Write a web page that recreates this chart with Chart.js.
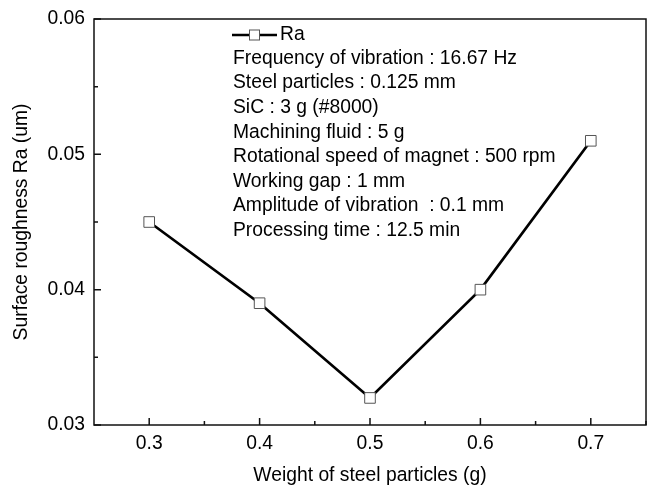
<!DOCTYPE html>
<html>
<head>
<meta charset="utf-8">
<script src="https://cdn.jsdelivr.net/npm/chart.js@4"></script>
<style>
  html, body { margin: 0; padding: 0; background: #fff; }
  #wrap { width: 647px; height: 490px; }
</style>
</head>
<body>
<div id="wrap"><canvas id="chart"></canvas></div>
<script>
const weights = [0.3, 0.4, 0.5, 0.6, 0.7];
const roughness = [0.045, 0.039, 0.032, 0.040, 0.051];
const xTicks = [0.3, 0.4, 0.5, 0.6, 0.7];
const yTicks = [0.03, 0.04, 0.05, 0.06];
const notes = [
    "Frequency of vibration : 16.67 Hz",
    "Steel particles : 0.125 mm",
    "SiC : 3 g (#8000)",
    "Machining fluid : 5 g",
    "Rotational speed of magnet : 500 rpm",
    "Working gap : 1 mm",
    "Amplitude of vibration  : 0.1 mm",
    "Processing time : 12.5 min"
];

const FONT = "Arial, 'Liberation Sans', sans-serif";
const FS = 19.3;

// frame, inward ticks, legend and the parameter list
const framePlugin = {
    id: 'frame',
    afterDraw(chart) {
        const ctx = chart.ctx;
        const a = chart.chartArea;
        const xs = chart.scales.x, ys = chart.scales.y;
        ctx.save();
        ctx.strokeStyle = '#111';
        ctx.lineWidth = 1.5;
        ctx.strokeRect(a.left, a.top, a.right - a.left, a.bottom - a.top);

        ctx.beginPath();
        xTicks.forEach(v => {
            const px = xs.getPixelForValue(v);
            ctx.moveTo(px, a.bottom); ctx.lineTo(px, a.bottom - 7);
            const pm = xs.getPixelForValue(v + 0.05);
            ctx.moveTo(pm, a.bottom); ctx.lineTo(pm, a.bottom - 4);
        });
        yTicks.forEach((v, i) => {
            const py = ys.getPixelForValue(v);
            ctx.moveTo(a.left, py); ctx.lineTo(a.left + 7, py);
            if (i < yTicks.length - 1) {
                const pm = ys.getPixelForValue(v + 0.005);
                ctx.moveTo(a.left, pm); ctx.lineTo(a.left + 4, pm);
            }
        });
        ctx.stroke();

        // legend
        const ly = 35;
        ctx.strokeStyle = '#000';
        ctx.lineWidth = 2.5;
        ctx.beginPath();
        ctx.moveTo(232, ly); ctx.lineTo(277, ly);
        ctx.stroke();
        ctx.fillStyle = '#fff';
        ctx.strokeStyle = '#555';
        ctx.lineWidth = 1;
        ctx.fillRect(249.5, ly - 5, 10, 10);
        ctx.strokeRect(249.5, ly - 5, 10, 10);

        ctx.fillStyle = '#000';
        ctx.font = FS + 'px ' + FONT;
        ctx.textBaseline = 'middle';
        ctx.textAlign = 'left';
        ctx.fillText(chart.data.datasets[0].label, 280, ly);
        notes.forEach((t, i) => ctx.fillText(t, 233, 58.5 + i * 24.6));
        ctx.restore();
    }
};

new Chart(document.getElementById('chart'), {
    type: 'line',
    data: {
        datasets: [{
            label: 'Ra',
            data: weights.map((w, i) => ({ x: w, y: roughness[i] })),
            borderColor: '#000',
            borderWidth: 2.7,
            pointStyle: 'rect',
            pointRadius: 7.5,
            pointBorderWidth: 1,
            pointBorderColor: '#555',
            pointBackgroundColor: '#fff',
            tension: 0
        }]
    },
    options: {
        responsive: true,
        maintainAspectRatio: false,
        animation: false,
        layout: { autoPadding: false, padding: { left: 0, right: 1, top: 19, bottom: 0 } },
        plugins: {
            legend: { display: false },
            tooltip: { enabled: false }
        },
        scales: {
            x: {
                type: 'linear',
                min: 0.25,
                max: 0.75,
                afterBuildTicks: s => { s.ticks = xTicks.map(v => ({ value: v })); },
                afterFit: s => { s.height = 65; s.paddingLeft = 0; s.paddingRight = 0; },
                grid: { display: false, drawTicks: false },
                border: { display: false },
                ticks: {
                    padding: 7,
                    color: '#000',
                    font: { family: FONT, size: FS },
                    callback: v => v.toFixed(1)
                },
                title: {
                    display: true,
                    text: 'Weight of steel particles (g)',
                    color: '#000',
                    font: { family: FONT, size: FS },
                    padding: { top: 0, bottom: 3 }
                }
            },
            y: {
                min: 0.03,
                max: 0.06,
                afterBuildTicks: s => { s.ticks = yTicks.map(v => ({ value: v })); },
                afterFit: s => { s.width = 94; s.paddingTop = 0; s.paddingBottom = 0; },
                grid: { display: false, drawTicks: false },
                border: { display: false },
                ticks: {
                    padding: 9,
                    color: '#000',
                    font: { family: FONT, size: FS },
                    callback: v => v.toFixed(2)
                },
                title: {
                    display: true,
                    text: 'Surface roughness Ra (um)',
                    color: '#000',
                    font: { family: FONT, size: FS },
                    padding: { top: 10, bottom: 0 }
                }
            }
        }
    },
    plugins: [framePlugin]
});
</script>
</body>
</html>
